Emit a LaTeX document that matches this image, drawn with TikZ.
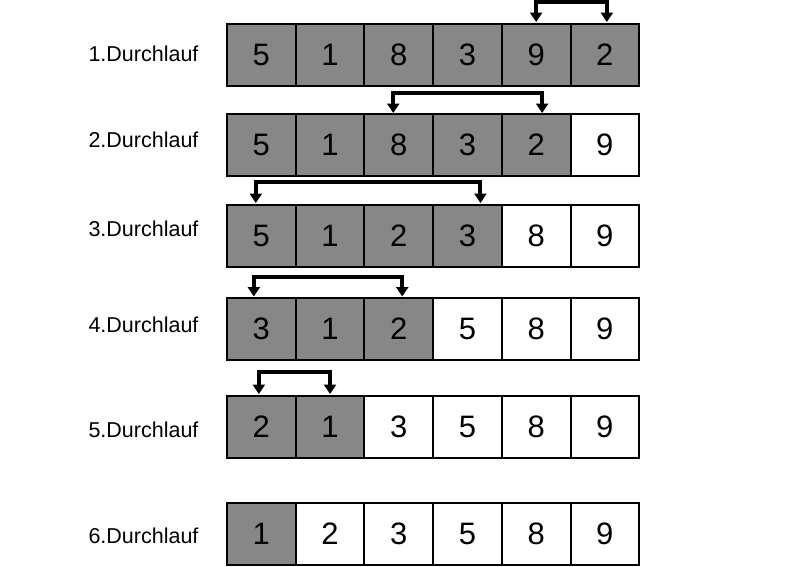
\documentclass[tikz,border=0pt]{standalone}
\usepackage{fontspec}
\setmainfont{Liberation Sans}
\usetikzlibrary{arrows.meta}
\definecolor{feldgrau}{RGB}{135,135,135}
\tikzset{
	zelle/.style={rectangle, draw, line width=2pt, minimum width=68.7pt, minimum height=62pt, inner sep=0pt, outer sep=0pt, font=\fontsize{31}{34}\selectfont},
	offen/.style={zelle, fill=feldgrau},
	fertig/.style={zelle, fill=white},
	lauf/.style={anchor=base west, font=\fontsize{21.5}{25}\selectfont},
	tausch/.style={line width=4pt, {Triangle[width=12pt,length=9.5pt]}-{Triangle[width=12pt,length=9.5pt]}}
}

\begin{document}
\begin{tikzpicture}[x=1pt, y=-1pt]
	\useasboundingbox (0,0) rectangle (800,566);
	% 1. Durchlauf
	\node[lauf] (L1) at (85,61) {1.Durchlauf};
	\node[offen] (a1) at (261.35,55) {5};
	\node[offen] (a2) at (330.05,55) {1};
	\node[offen] (a3) at (398.75,55) {8};
	\node[offen] (a4) at (467.45,55) {3};
	\node[offen] (a5) at (536.15,55) {9};
	\node[offen] (a6) at (604.85,55) {2};
	% 2. Durchlauf
	\node[lauf] (L2) at (85,147) {2.Durchlauf};
	\node[offen] (b1) at (261.35,145) {5};
	\node[offen] (b2) at (330.05,145) {1};
	\node[offen] (b3) at (398.75,145) {8};
	\node[offen] (b4) at (467.45,145) {3};
	\node[offen] (b5) at (536.15,145) {2};
	\node[fertig] (b6) at (604.85,145) {9};
	% 3. Durchlauf
	\node[lauf] (L3) at (85,236) {3.Durchlauf};
	\node[offen] (c1) at (261.35,235.5) {5};
	\node[offen] (c2) at (330.05,235.5) {1};
	\node[offen] (c3) at (398.75,235.5) {2};
	\node[offen] (c4) at (467.45,235.5) {3};
	\node[fertig] (c5) at (536.15,235.5) {8};
	\node[fertig] (c6) at (604.85,235.5) {9};
	% 4. Durchlauf
	\node[lauf] (L4) at (85,332) {4.Durchlauf};
	\node[offen] (d1) at (261.35,329) {3};
	\node[offen] (d2) at (330.05,329) {1};
	\node[offen] (d3) at (398.75,329) {2};
	\node[fertig] (d4) at (467.45,329) {5};
	\node[fertig] (d5) at (536.15,329) {8};
	\node[fertig] (d6) at (604.85,329) {9};
	% 5. Durchlauf
	\node[lauf] (L5) at (85,437) {5.Durchlauf};
	\node[offen] (e1) at (261.35,427) {2};
	\node[offen] (e2) at (330.05,427) {1};
	\node[fertig] (e3) at (398.75,427) {3};
	\node[fertig] (e4) at (467.45,427) {5};
	\node[fertig] (e5) at (536.15,427) {8};
	\node[fertig] (e6) at (604.85,427) {9};
	% 6. Durchlauf
	\node[lauf] (L6) at (85,543) {6.Durchlauf};
	\node[offen] (f1) at (261.35,534) {1};
	\node[fertig] (f2) at (330.05,534) {2};
	\node[fertig] (f3) at (398.75,534) {3};
	\node[fertig] (f4) at (467.45,534) {5};
	\node[fertig] (f5) at (536.15,534) {8};
	\node[fertig] (f6) at (604.85,534) {9};
	% Vertauschungen
	\draw[tausch] ([yshift=2pt]a5.north) -- ++(0,-20.5) -| ([xshift=2pt,yshift=2pt]a6.north);
	\draw[tausch] ([xshift=-5.5pt,yshift=1pt]b3.north) -- ++(0,-20) -| ([xshift=6pt,yshift=1pt]b5.north);
	\draw[tausch] ([xshift=-5.5pt,yshift=1.5pt]c1.north) -- ++(0,-21) -| ([xshift=13pt,yshift=1.5pt]c4.north);
	\draw[tausch] ([xshift=-7.5pt,yshift=1.5pt]d1.north) -- ++(0,-19.5) -| ([xshift=3.5pt,yshift=1.5pt]d3.north);
	\draw[tausch] ([xshift=-2.5pt,yshift=2pt]e1.north) -- ++(0,-22) -| ([yshift=2pt]e2.north);
\end{tikzpicture}
\end{document}
